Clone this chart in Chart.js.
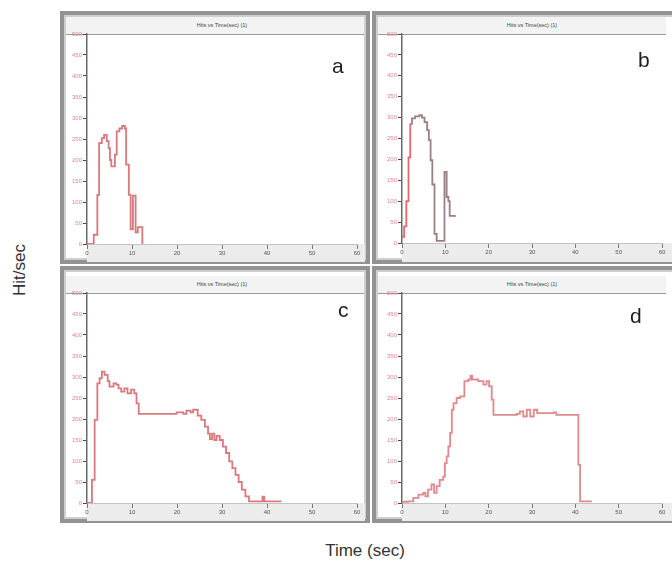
<!DOCTYPE html>
<html><head><meta charset="utf-8">
<script src="https://cdn.jsdelivr.net/npm/chart.js@4.4.1/dist/chart.umd.min.js"></script>
<style>
html,body{margin:0;padding:0;background:#fff;width:672px;height:571px;overflow:hidden;font-family:"Liberation Sans",Arial,sans-serif;}
#wrap{position:relative;width:672px;height:571px;overflow:hidden;}
.frame{position:absolute;box-sizing:border-box;border:4px solid #939393;box-shadow:inset 0 0 0 2px #cfcfcf;background:#fff;}
.tbar{position:absolute;box-sizing:border-box;background:#f3f3f3;border-bottom:1px solid #9a9a9a;}
.ttl{position:absolute;font-size:5.5px;color:#444;text-align:center;white-space:nowrap;}
canvas{position:absolute;}
.letter{position:absolute;font-size:21px;line-height:21px;color:#1e1e1e;}
.axt{position:absolute;font-size:17px;color:#333;white-space:nowrap;}
</style></head>
<body><div id="wrap">
<div class="frame" style="left:60px;top:11px;width:310px;height:253px"></div>
<div class="frame" style="left:372px;top:11px;width:310px;height:253px"></div>
<div class="frame" style="left:60px;top:266px;width:310px;height:257px"></div>
<div class="frame" style="left:372px;top:266px;width:310px;height:257px"></div>
<div class="tbar" style="left:66px;top:17px;width:298px;height:18px"></div>
<div class="tbar" style="left:378px;top:17px;width:288px;height:18px"></div>
<div class="tbar" style="left:66px;top:276px;width:298px;height:18px"></div>
<div class="tbar" style="left:378px;top:276px;width:288px;height:18px"></div>
<div class="ttl" id="t0" style="left:87px;top:22px;width:270px"></div>
<div class="ttl" id="t1" style="left:402px;top:22px;width:260px"></div>
<div class="ttl" id="t2" style="left:87px;top:281px;width:270px"></div>
<div class="ttl" id="t3" style="left:402px;top:281px;width:260px"></div>
<canvas id="c0" width="299" height="236" style="left:66px;top:26px"></canvas>
<canvas id="c1" width="294" height="236" style="left:378px;top:26px"></canvas>
<canvas id="c2" width="299" height="236" style="left:66px;top:285px"></canvas>
<canvas id="c3" width="294" height="236" style="left:378px;top:285px"></canvas>
<div class="letter" id="l0" style="left:332px;top:55px"></div>
<div class="letter" id="l1" style="left:638px;top:49px"></div>
<div class="letter" id="l2" style="left:338px;top:299px"></div>
<div class="letter" id="l3" style="left:630px;top:305px"></div>
<div class="axt" id="ylab" style="left:-12px;top:260px;transform:rotate(-90deg);width:64px;text-align:center">Hit/sec</div>
<div class="axt" id="xlab" style="left:315px;top:541px;width:100px;text-align:center">Time (sec)</div>
</div>
<script>
// ---- data ----
const panelLetters = ['a', 'b', 'c', 'd'];
const panelTitle = 'Hits vs Time(sec) (1)';
const yTickValues = [0, 50, 100, 150, 200, 250, 300, 350, 400, 450, 500];
const xTickValues = [0, 10, 20, 30, 40, 50, 60];

const aTime = [0, 1.5, 2.3, 2.7, 3.3, 3.8, 4.4, 4.8, 5.1, 5.4, 6.2, 6.6, 7.2, 7.8, 8.4, 8.7, 9.3, 9.7, 10.2, 10.8, 11.3, 12.0, 12.3];
const aHits = [0, 22, 117, 240, 252, 260, 245, 228, 200, 185, 213, 268, 275, 281, 275, 189, 117, 35, 115, 28, 40, 40, 0];

const bTime = [0, 0.5, 1.0, 1.5, 1.9, 2.3, 3.0, 4.0, 4.6, 5.2, 5.8, 6.2, 6.6, 7.0, 7.5, 8.0, 9.6, 9.8, 10.3, 10.7, 11.0, 12.2];
const bHits = [15, 40, 100, 205, 285, 298, 303, 306, 300, 289, 270, 246, 198, 140, 22, 5, 5, 170, 110, 100, 65, 62];

const cTime = [0, 1.1, 1.7, 2.3, 2.8, 3.3, 3.9, 4.6, 5.0, 5.9, 6.5, 7.0, 7.6, 8.3, 9.0, 9.8, 10.5, 11.0, 11.5, 19.9, 21.4, 22.1, 23.0, 23.6, 24.6, 25.4, 26.2, 26.9, 27.3, 27.8, 28.3, 28.8, 29.5, 30.2, 30.9, 31.6, 32.3, 33.0, 33.7, 34.4, 35.2, 36.0, 38.8, 39.0, 39.4, 43.2];
const cHits = [0, 55, 198, 285, 297, 313, 305, 290, 277, 285, 282, 273, 265, 273, 261, 270, 261, 237, 212, 216, 212, 220, 216, 222, 208, 198, 182, 165, 152, 165, 150, 160, 150, 134, 119, 99, 83, 67, 50, 32, 16, 4, 4, 15, 4, 4];

const dTime = [0, 1.4, 2.6, 3.8, 4.9, 5.4, 6.0, 6.8, 7.4, 8.0, 8.7, 9.5, 9.9, 10.3, 10.7, 11.1, 11.5, 11.9, 12.6, 13.4, 14.4, 15.3, 15.8, 16.2, 17.6, 18.8, 19.5, 20.1, 20.7, 21.1, 26.5, 27.2, 28.0, 28.8, 29.6, 30.4, 31.2, 35.0, 35.6, 40.7, 41.1, 43.8];
const dHits = [3, 4, 12, 20, 24, 16, 32, 44, 24, 40, 55, 63, 95, 111, 135, 167, 222, 238, 250, 254, 290, 294, 303, 294, 290, 282, 290, 278, 246, 210, 212, 218, 206, 222, 206, 222, 214, 216, 210, 91, 4, 4];

// ---- drawing ----
const panels = [
  {t: aTime, v: aHits, color: '#d7787c', left: 21, right: 8, bottom: 18},
  {t: bTime, v: bHits, color: '#9a8080', left: 24, right: 10, bottom: 19, redUntil: 1.6},
  {t: cTime, v: cHits, color: '#d9797d', left: 21, right: 8, bottom: 18},
  {t: dTime, v: dHits, color: '#e08a8d', left: 24, right: 10, bottom: 18}
];

const bandPlugin = {
  id: 'band',
  beforeDraw(chart) {
    const {ctx, chartArea} = chart;
    ctx.save();
    ctx.fillStyle = '#ececec';
    ctx.fillRect(chartArea.left, chartArea.bottom, chart.width - chartArea.left, chart.height - chartArea.bottom);
    ctx.restore();
  }
};

panels.forEach((p, i) => {
  document.getElementById('t' + i).textContent = panelTitle;
  document.getElementById('l' + i).textContent = panelLetters[i];
  const pts = p.t.map((x, k) => ({x: x, y: p.v[k]}));
  const ds = {
    data: pts, stepped: true, borderColor: p.color, borderWidth: 1.8,
    pointRadius: 0, fill: false
  };
  if (p.redUntil) {
    ds.segment = {borderColor: ctx => (ctx.p0.parsed.x < p.redUntil ? '#e06a6a' : undefined)};
  }
  new Chart(document.getElementById('c' + i), {
    type: 'line',
    data: {datasets: [ds]},
    plugins: [bandPlugin],
    options: {
      responsive: false, animation: false, devicePixelRatio: 1,
      layout: {padding: {top: 8, right: p.right, left: 0, bottom: 0}},
      plugins: {legend: {display: false}, tooltip: {enabled: false}, title: {display: false}},
      scales: {
        x: {
          type: 'linear', min: 0, max: 60,
          afterBuildTicks: s => { s.ticks = xTickValues.map(v => ({value: v})); },
          afterFit: s => { s.height = p.bottom; },
          ticks: {color: '#555', font: {size: 6, family: 'Liberation Sans'}, padding: 1, maxRotation: 0, autoSkip: false},
          grid: {drawOnChartArea: false, drawTicks: true, tickLength: 5, color: '#777'},
          border: {display: true, color: '#c4c4c4', width: 1}
        },
        y: {
          min: 0, max: 500,
          afterBuildTicks: s => { s.ticks = yTickValues.map(v => ({value: v})); },
          afterFit: s => { s.width = p.left; },
          ticks: {color: '#dc8a8e', font: {size: 6, family: 'Liberation Sans'}, padding: 1, autoSkip: false},
          grid: {drawOnChartArea: false, drawTicks: true, tickLength: 4, color: '#444'},
          border: {display: true, color: '#6a6a6a', width: 1.5}
        }
      }
    }
  });
});
</script>
</body></html>
